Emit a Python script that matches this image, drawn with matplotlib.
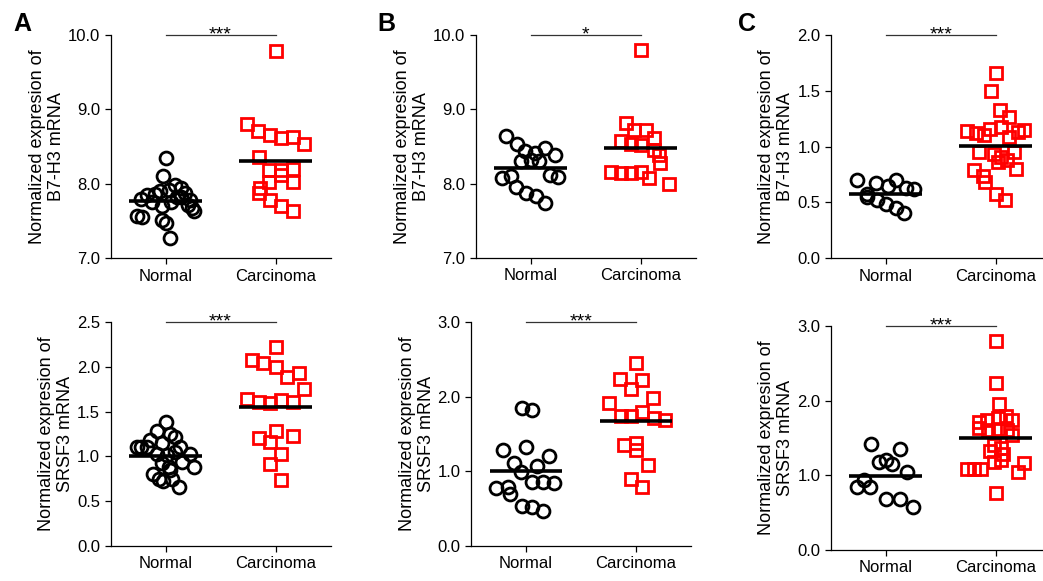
import matplotlib
matplotlib.use("Agg")
import matplotlib.pyplot as plt
import numpy as np

plt.rcParams['font.family'] = ['Liberation Sans', 'DejaVu Sans']

W, H = 1043, 581
categories = ["Normal", "Carcinoma"]

# ---------------- Panel A, top (B7-H3) ----------------
a1_normal = [8.35, 8.11, 7.98, 7.95, 7.92, 7.88, 7.85, 7.87, 7.90, 7.83, 7.80, 7.78,
             7.76, 7.75, 7.72, 7.70, 7.68, 7.63, 7.57, 7.56, 7.51, 7.47, 7.27, 7.82]
a1_normal_jit = [0.00, -0.02, 0.09, 0.14, 0.03, 0.18, -0.17, -0.10, -0.05, 0.10, -0.22, 0.22,
                 -0.12, 0.05, 0.20, -0.03, 0.24, 0.26, -0.26, -0.21, -0.03, 0.00, 0.04, 0.14]
a1_carc = [9.78, 8.80, 8.71, 8.66, 8.61, 8.63, 8.54, 8.36, 8.18, 8.18, 8.20, 8.12,
           8.03, 8.03, 7.94, 7.88, 7.78, 7.70, 7.64]
a1_carc_jit = [0.00, -0.26, -0.16, -0.05, 0.05, 0.16, 0.26, -0.15, -0.06, 0.05, 0.16, 0.05,
               0.16, -0.06, -0.14, -0.15, -0.05, 0.05, 0.16]
a1_means = [7.77, 8.31]

# ---------------- Panel A, bottom (SRSF3) ----------------
a2_normal = [1.38, 1.28, 1.25, 1.22, 1.18, 1.11, 1.10, 1.10, 1.15, 1.11, 1.03, 1.03,
             1.01, 1.05, 0.94, 0.88, 0.92, 0.88, 0.80, 0.75, 0.72, 0.75, 0.66, 0.85]
a2_normal_jit = [0.00, -0.08, 0.04, 0.09, -0.14, -0.26, -0.22, -0.17, -0.03, 0.13, 0.22, -0.08,
                 0.01, 0.09, 0.15, 0.26, -0.03, 0.03, -0.11, -0.06, -0.02, 0.06, 0.12, 0.04]
a2_carc = [2.22, 2.08, 2.04, 2.00, 1.89, 1.93, 1.75, 1.64, 1.61, 1.60, 1.63, 1.61,
           1.28, 1.20, 1.16, 1.23, 1.03, 0.91, 0.73]
a2_carc_jit = [0.00, -0.21, -0.11, 0.00, 0.10, 0.21, 0.26, -0.26, -0.15, -0.05, 0.05, 0.16,
               0.00, -0.15, -0.05, 0.16, 0.05, -0.05, 0.05]
a2_means = [1.00, 1.55]

# ---------------- Panel B, top (B7-H3) ----------------
b1_normal = [8.64, 8.54, 8.44, 8.41, 8.48, 8.39, 8.31, 8.32, 8.31, 8.07, 8.10, 7.96,
             7.88, 7.84, 7.74, 8.12, 8.09]
b1_normal_jit = [-0.22, -0.12, -0.05, 0.04, 0.13, 0.22, -0.09, 0.00, 0.08, -0.26, -0.18, -0.13,
                 -0.04, 0.05, 0.13, 0.18, 0.25]
b1_carc = [9.80, 8.81, 8.72, 8.72, 8.61, 8.57, 8.54, 8.52, 8.39, 8.28, 8.16, 8.14,
           8.14, 8.16, 8.08, 8.00, 8.45]
b1_carc_jit = [0.00, -0.13, -0.06, 0.05, 0.12, -0.18, -0.09, 0.00, 0.17, 0.18, -0.27, -0.18,
               -0.09, 0.00, 0.08, 0.26, 0.12]
b1_means = [8.21, 8.48]

# ---------------- Panel B, bottom (SRSF3) ----------------
b2_normal = [1.85, 1.82, 1.29, 1.33, 1.20, 1.11, 1.07, 0.99, 0.77, 0.79, 0.70, 0.85,
             0.85, 0.84, 0.53, 0.52, 0.47]
b2_normal_jit = [-0.04, 0.05, -0.21, 0.00, 0.21, -0.11, 0.10, -0.05, -0.27, -0.16, -0.15, 0.05,
                 0.15, 0.25, -0.04, 0.05, 0.15]
b2_carc = [2.46, 2.24, 2.23, 2.11, 1.92, 1.98, 1.74, 1.74, 1.80, 1.71, 1.69, 1.35,
           1.38, 1.29, 1.08, 0.89, 0.79]
b2_carc_jit = [0.00, -0.15, 0.05, -0.05, -0.25, 0.15, -0.14, -0.05, 0.05, 0.16, 0.26, -0.11,
               0.00, 0.00, 0.11, -0.05, 0.05]
b2_means = [1.00, 1.675]

# ---------------- Panel C, top (B7-H3) ----------------
c1_normal = [0.70, 0.67, 0.70, 0.58, 0.55, 0.52, 0.49, 0.65, 0.63, 0.62, 0.45, 0.41]
c1_normal_jit = [-0.26, -0.09, 0.09, -0.17, -0.17, -0.08, 0.00, 0.02, 0.18, 0.26, 0.09, 0.17]
c1_carc = [1.66, 1.50, 1.33, 1.27, 1.14, 1.12, 1.10, 1.16, 1.18, 1.13, 1.15, 1.09,
           0.95, 0.93, 0.91, 0.95, 0.86, 0.80, 0.79, 0.74, 0.68, 0.58, 0.52, 0.88]
c1_carc_jit = [0.00, -0.04, 0.04, 0.12, -0.26, -0.18, -0.11, -0.05, 0.05, 0.20, 0.26, 0.12,
               -0.15, -0.02, 0.05, 0.17, 0.02, 0.18, -0.20, -0.12, -0.10, 0.00, 0.08, 0.10]
c1_means = [0.58, 1.005]

# ---------------- Panel C, bottom (SRSF3) ----------------
c2_normal = [1.42, 1.35, 1.18, 1.21, 1.15, 1.04, 0.94, 0.85, 0.85, 0.68, 0.68, 0.58]
c2_normal_jit = [-0.13, 0.13, -0.06, 0.00, 0.06, 0.19, -0.20, -0.26, -0.14, 0.00, 0.13, 0.25]
c2_carc = [2.80, 2.24, 1.95, 1.72, 1.74, 1.77, 1.79, 1.74, 1.63, 1.61, 1.62, 1.61,
           1.54, 1.41, 1.36, 1.32, 1.28, 1.18, 1.20, 1.08, 1.08, 1.08, 1.05, 1.17, 0.77]
c2_carc_jit = [0.00, 0.00, 0.03, -0.15, -0.08, 0.02, 0.09, 0.15, -0.15, -0.07, 0.02, 0.10,
               0.15, -0.02, 0.05, -0.05, 0.07, -0.02, 0.05, -0.26, -0.20, -0.13, 0.20, 0.26, 0.00]
c2_means = [0.99, 1.50]

ylabels = ["Normalized expresion of\nB7-H3 mRNA", "Normalized expresion of\nSRSF3 mRNA"]
panel_letters = ["A", "B", "C"]
stars = ["***", "***", "*", "***", "***", "***"]

fig = plt.figure(figsize=(W / 100, H / 100), dpi=100)


def px_axes(l, t, r, b):
    return fig.add_axes([l / W, 1 - b / H, (r - l) / W, (b - t) / H])


def draw_panel(ax, normal, njit, carc, cjit, means, ylim, yticks, ylabel, star):
    ax.plot(np.array(njit) + 0, normal, 'o', ms=9.3, mfc='none', mec='black', mew=2.0,
            clip_on=False, zorder=3)
    ax.plot(np.array(cjit) + 1, carc, 's', ms=8.8, mfc='none', mec='#ff0000', mew=2.0,
            clip_on=False, zorder=3)
    for i, m in enumerate(means):
        ax.plot([i - 0.33, i + 0.33], [m, m], color='black', lw=2.6, zorder=4,
                solid_capstyle='butt')
    ax.set_xlim(-0.5, 1.5)
    ax.set_ylim(*ylim)
    ax.set_yticks(yticks)
    ax.set_yticklabels([f"{v:.1f}" for v in yticks])
    ax.set_xticks([0, 1])
    ax.set_xticklabels(categories)
    for s in ['top', 'right']:
        ax.spines[s].set_visible(False)
    for s in ['left', 'bottom']:
        ax.spines[s].set_linewidth(0.9)
    ax.tick_params(axis='both', direction='out', length=4, width=0.9, labelsize=12,
                   colors='black')
    ax.set_ylabel(ylabel, fontsize=13, labelpad=2, linespacing=1.15)
    ytop = ylim[1]
    ax.plot([0, 1], [ytop, ytop], color='#333333', lw=0.9, clip_on=False)
    ax.annotate(star, xy=(0.5, ytop), xytext=(0, -3), textcoords='offset points',
                ha='center', va='baseline', fontsize=14, annotation_clip=False)


ax = px_axes(110.5, 35, 330.5, 258.3)
draw_panel(ax, a1_normal, a1_normal_jit, a1_carc, a1_carc_jit, a1_means,
           (7.0, 10.0), [7.0, 8.0, 9.0, 10.0], ylabels[0], stars[0])
ax = px_axes(110.5, 322.3, 330.5, 545.7)
draw_panel(ax, a2_normal, a2_normal_jit, a2_carc, a2_carc_jit, a2_means,
           (0.0, 2.5), [0.0, 0.5, 1.0, 1.5, 2.0, 2.5], ylabels[1], stars[1])
ax = px_axes(475.5, 35, 695.5, 258.0)
draw_panel(ax, b1_normal, b1_normal_jit, b1_carc, b1_carc_jit, b1_means,
           (7.0, 10.0), [7.0, 8.0, 9.0, 10.0], ylabels[0], stars[2])
ax = px_axes(471, 322.3, 691, 545.7)
draw_panel(ax, b2_normal, b2_normal_jit, b2_carc, b2_carc_jit, b2_means,
           (0.0, 3.0), [0.0, 1.0, 2.0, 3.0], ylabels[1], stars[3])
ax = px_axes(830.7, 35, 1050.7, 258.3)
draw_panel(ax, c1_normal, c1_normal_jit, c1_carc, c1_carc_jit, c1_means,
           (0.0, 2.0), [0.0, 0.5, 1.0, 1.5, 2.0], ylabels[0], stars[4])
ax = px_axes(830.7, 326, 1050.7, 550)
draw_panel(ax, c2_normal, c2_normal_jit, c2_carc, c2_carc_jit, c2_means,
           (0.0, 3.0), [0.0, 1.0, 2.0, 3.0], ylabels[1], stars[5])

for letter, xpx in zip(panel_letters, [13, 377, 738]):
    fig.text(xpx / W, 1 - 31 / H, letter, fontsize=18, fontweight='bold',
             ha='left', va='baseline')

fig.savefig("out.png", dpi=100)
